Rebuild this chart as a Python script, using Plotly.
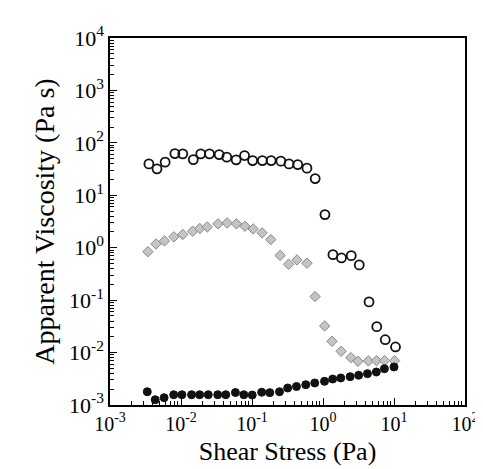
import plotly.graph_objects as go

# Shear stress (Pa) and apparent viscosity (Pa s) for three samples
open_x = [0.00353, 0.00459, 0.00598, 0.0082, 0.0106, 0.0149, 0.0190, 0.0252, 0.0345, 0.0441,
          0.0598, 0.0786, 0.102, 0.140, 0.186, 0.255, 0.332, 0.441, 0.594, 0.776,
          1.065, 1.38, 1.82, 2.50, 3.24, 4.45, 5.72, 7.53, 10.5]
open_y = [39.7, 31.9, 42.8, 62.5, 61.7, 48.0, 61.7, 61.7, 59.8, 53.3,
          47.4, 57.3, 45.9, 45.9, 45.9, 44.7, 39.7, 38.5, 32.9, 20.8,
          4.28, 0.738, 0.638, 0.706, 0.470, 0.0925, 0.0312, 0.0176, 0.0128]

gray_x = [0.00342, 0.00445, 0.00585, 0.00794, 0.0106, 0.0146, 0.0184, 0.0234, 0.0332, 0.0448,
          0.0604, 0.0794, 0.104, 0.139, 0.184, 0.249, 0.328, 0.430, 0.594, 0.773,
          1.055, 1.34, 1.80, 2.47, 3.11, 4.36, 5.66, 7.36, 10.2]
gray_y = [0.84, 1.18, 1.35, 1.61, 1.79, 2.06, 2.32, 2.49, 2.85, 2.97,
          2.85, 2.57, 2.28, 1.92, 1.43, 0.713, 0.484, 0.585, 0.506, 0.117,
          0.0322, 0.0164, 0.0106, 0.0080, 0.00683, 0.00692, 0.0070, 0.0070, 0.0070]

black_x = [0.00335, 0.00433, 0.00578, 0.0079, 0.0103, 0.0141, 0.0183, 0.0242, 0.0329, 0.0427,
           0.0584, 0.0767, 0.1007, 0.137, 0.178, 0.244, 0.318, 0.423, 0.572, 0.765,
           1.05, 1.37, 1.78, 2.41, 3.18, 4.23, 5.64, 7.33, 10.0]
black_y = [0.00179, 0.00126, 0.00138, 0.00157, 0.00157, 0.00157, 0.00157, 0.00157, 0.00157, 0.00157,
           0.00173, 0.00157, 0.00155, 0.00175, 0.00172, 0.00179, 0.00211, 0.00225, 0.00244, 0.00263,
           0.00283, 0.00313, 0.00328, 0.00347, 0.00369, 0.00396, 0.00426, 0.00493, 0.00531]

x_tickvals = [1e-3, 1e-2, 1e-1, 1e0, 1e1, 1e2]
x_ticktext = ["10<sup>-3</sup>", "10<sup>-2</sup>", "10<sup>-1</sup>", "10<sup>0</sup>", "10<sup>1</sup>", "10<sup>2</sup>"]
y_tickvals = [1e-3, 1e-2, 1e-1, 1e0, 1e1, 1e2, 1e3, 1e4]
y_ticktext = ["10<sup>-3</sup>", "10<sup>-2</sup>", "10<sup>-1</sup>", "10<sup>0</sup>", "10<sup>1</sup>",
              "10<sup>2</sup>", "10<sup>3</sup>", "10<sup>4</sup>"]

# minor tick positions (2..9 within each decade)
x_minor = [m * 10.0 ** e for e in range(-3, 2) for m in range(2, 10)]
y_minor = [m * 10.0 ** e for e in range(-3, 4) for m in range(2, 10)]

FONT = "Liberation Serif"

fig = go.Figure()
fig.add_trace(go.Scatter(x=gray_x, y=gray_y, mode="markers",
                         marker=dict(symbol="diamond", size=8, color="#c4c4c4",
                                     line=dict(color="#8a8a8a", width=1))))
fig.add_trace(go.Scatter(x=black_x, y=black_y, mode="markers",
                         marker=dict(symbol="circle", size=8, color="#111111",
                                     line=dict(color="#111111", width=1))))
fig.add_trace(go.Scatter(x=open_x, y=open_y, mode="markers",
                         marker=dict(symbol="circle-open", size=9, color="#111111",
                                     line=dict(color="#111111", width=1.8))))

axis_common = dict(type="log", showline=True, linecolor="black", linewidth=1.5, mirror=True,
                   ticks="inside", ticklen=7, tickcolor="black", tickwidth=1,
                   showgrid=False, zeroline=False)

fig.update_xaxes(range=[-3, 2], tickvals=x_tickvals, ticktext=x_ticktext,
                 tickfont=dict(family=FONT, size=20, color="black"),
                 minor=dict(tickvals=x_minor, ticks="inside", ticklen=4, tickcolor="black",
                            tickwidth=1, showgrid=False),
                 title=dict(text="Shear Stress (Pa)", font=dict(family=FONT, size=26, color="black"), standoff=8),
                 **axis_common)
fig.update_yaxes(range=[-3, 4], tickvals=y_tickvals, ticktext=y_ticktext,
                 tickfont=dict(family=FONT, size=22, color="black"),
                 minor=dict(tickvals=y_minor, ticks="inside", ticklen=4, tickcolor="black",
                            tickwidth=1, showgrid=False),
                 title=dict(text="Apparent Viscosity (Pa s)", font=dict(family=FONT, size=28, color="black"), standoff=6),
                 **axis_common)

fig.update_layout(width=483, height=469, showlegend=False,
                  margin=dict(l=102, r=16, t=30, b=72),
                  plot_bgcolor="white", paper_bgcolor="white",
                  font=dict(family=FONT, color="black"))

fig.write_html("out.html")
